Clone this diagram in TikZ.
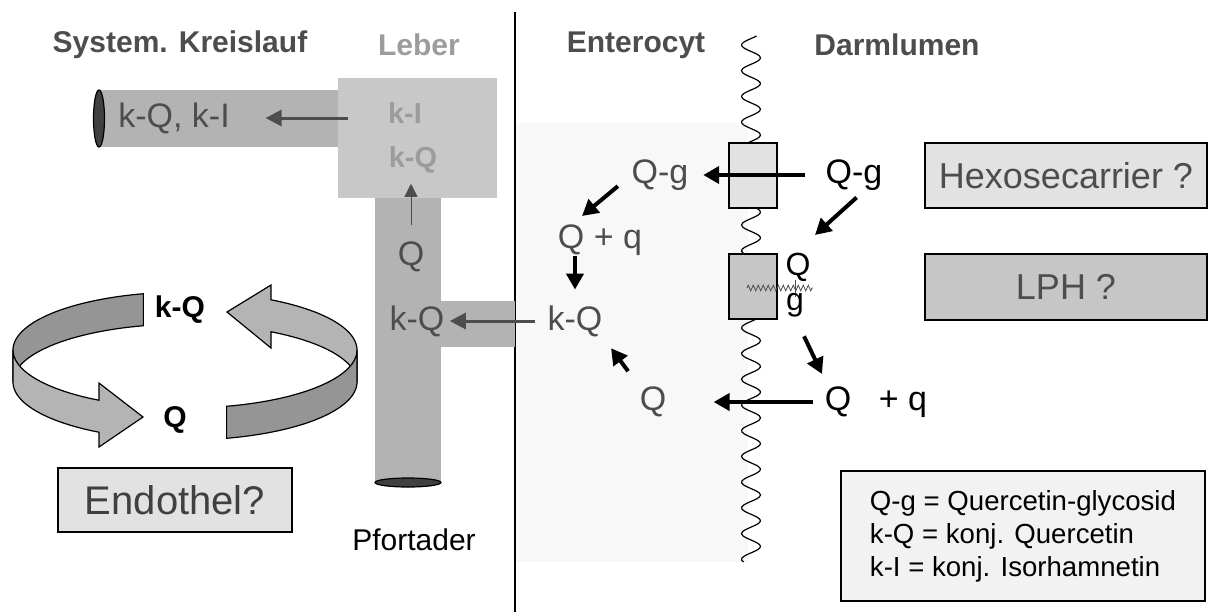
\documentclass[tikz,border=0pt]{standalone}
\usepackage{fontspec}
\setmainfont{Liberation Sans}
\usetikzlibrary{arrows.meta, decorations.pathmorphing}
\definecolor{txtgray}{HTML}{4D4D4D}
\definecolor{livgray}{HTML}{9C9C9C}
\definecolor{tube}{HTML}{B3B3B3}
\definecolor{liver}{HTML}{C8C8C8}
\definecolor{hexo}{HTML}{E2E2E2}
\definecolor{lph}{HTML}{C6C6C6}
\definecolor{cellbg}{HTML}{F8F8F8}
\definecolor{legbg}{HTML}{F2F2F2}
\definecolor{ribdark}{HTML}{959595}
\definecolor{riblight}{HTML}{B4B4B4}
\definecolor{veinend}{HTML}{404040}

\begin{document}
\begin{tikzpicture}[
    x=0.5pt, y=-0.5pt,
    every node/.style={inner sep=0pt},
    ttl/.style={font=\bfseries\fontsize{15}{18}\selectfont, text=txtgray},
    big/.style={font=\fontsize{17}{20}\selectfont},
    grey/.style={big, text=txtgray},
    lbl/.style={font=\bfseries\fontsize{14.5}{17}\selectfont, text=livgray},
    box/.style={draw, line width=0.6pt, minimum width=141pt, minimum height=32.5pt,
                font=\fontsize{18}{21}\selectfont, text=txtgray},
    carrier/.style={draw, line width=0.6pt, minimum width=24pt, minimum height=32.5pt},
    arr/.style={-{Triangle[length=8pt, width=8.5pt]}, line width=2pt},
    garr/.style={-{Triangle[length=8pt, width=8pt]}, line width=1.5pt, txtgray},
    rib/.style={draw=black, line width=0.6pt}
]
    \useasboundingbox (0,0) rectangle (1211,612);

    % enterocyte and membrane
    \fill[cellbg] (516,123) rectangle (748,562);
    \draw[line width=0.6pt] plot[domain=36:562, samples=260, smooth] ({751+9.5*sin(14*\x)}, \x);
    \draw[line width=0.8pt] (515,12) -- (515,612);

    % vessels and liver
    \fill[tube] (99,90) rectangle (340,147);
    \fill[tube] (375,195) rectangle (441,484);
    \fill[tube] (441,301) rectangle (515,347);
    \node[fill=liver, minimum width=79.5pt, minimum height=60pt] (lbox) at (417.5,138) {};
    \filldraw[fill=veinend, line width=0.6pt] (99,118.5) ellipse [x radius=5.5, y radius=28.5];
    \filldraw[fill=veinend, line width=0.6pt] (408,482.5) ellipse [x radius=33, y radius=4.5];

    % titles
    \node[ttl] (tsys) at (180,45) {System. Kreislauf};
    \node[ttl, text=livgray] (tleb) at (419,45) {Leber};
    \node[ttl] (tent) at (636,45) {Enterocyt};
    \node[ttl] (tdarm) at (897,45) {Darmlumen};

    \node[grey] (kqki) at (174,118) {k-Q, k-I};
    \node[lbl] (lki) at (405,113) {k-I};
    \node[lbl] (lkq) at (413,160) {k-Q};
    \node[grey] (pq) at (411,257) {Q};
    \node[grey] (pkq) at (417,321) {k-Q};
    \node[font=\fontsize{15}{18}\selectfont] (pfort) at (414,540) {Pfortader};

    \draw[garr, shorten <=-5pt, shorten >=17.75pt] (lbox.west |- kqki) -- (kqki);
    \draw[-{Triangle[length=6.5pt, width=6.5pt]}, line width=0.5pt, txtgray,
          shorten <=8.5pt, shorten >=5pt] (pq.north) -- (pq |- lkq.south);

    % cycle in the endothelium
    \draw[rib, fill=ribdark] plot[domain=104:180, samples=40] ({185+172*cos(\x)}, {350-58*sin(\x)})
        -- plot[domain=180:104, samples=40] ({185+172*cos(\x)}, {382-58*sin(\x)}) -- cycle;
    \draw[rib, fill=riblight] plot[domain=180:240, samples=30] ({185+172*cos(\x)}, {350-58*sin(\x)})
        -- (99,383) -- (143,417) -- (99,447)
        -- plot[domain=240:180, samples=30] ({185+172*cos(\x)}, {382-58*sin(\x)}) -- cycle;
    \draw[rib, fill=riblight] plot[domain=0:60, samples=30] ({185+172*cos(\x)}, {350-58*sin(\x)})
        -- (271,285) -- (227,312) -- (271,348)
        -- plot[domain=60:0, samples=30] ({185+172*cos(\x)}, {382-58*sin(\x)}) -- cycle;
    \draw[rib, fill=ribdark] plot[domain=-76:0, samples=40] ({185+172*cos(\x)}, {350-58*sin(\x)})
        -- plot[domain=0:-76, samples=40] ({185+172*cos(\x)}, {382-58*sin(\x)}) -- cycle;
    \node[font=\bfseries\fontsize{15}{18}\selectfont] (ckq) at (180,310) {k-Q};
    \node[font=\bfseries\fontsize{15}{18}\selectfont] (cq) at (175,420) {Q};
    \node[draw, line width=0.6pt, fill=hexo, minimum width=117pt, minimum height=32pt,
          font=\fontsize{20}{24}\selectfont, text=veinend] (endo) at (175,500) {Endothel?};

    % carriers in the membrane
    \node[carrier, fill=hexo] (cb1) at (753,175.5) {};
    \node[carrier, fill=lph] (cb2) at (753,286.5) {};
    \draw[decorate, decoration={zigzag, segment length=2.5pt, amplitude=1.4pt},
          line width=0.4pt, txtgray] (747,288) -- (813,288);
    \draw[line width=0.4pt, txtgray] (795,280) -- (795,297);

    \node[grey] (eqg) at (660,175) {Q-g};
    \node[grey] (eqq) at (600,240) {Q + q};
    \node[grey] (ekq) at (575,321) {k-Q};
    \node[grey] (eq) at (653,402) {Q};
    \node[big] (rqg) at (854,175) {Q-g};
    \node[big] (rqq) at (876,402) {Q\hspace{9pt} + q};
    \node[font=\fontsize{16}{18}\selectfont] (lq) at (798,267) {Q};
    \node[font=\fontsize{16}{18}\selectfont] (lg) at (795,305) {g};

    \node[box, fill=hexo] (hexo) at (1066,175.5) {Hexosecarrier ?};
    \node[box, fill=lph, minimum height=33pt] (lph) at (1066,287) {LPH ?};
    \node[draw, line width=0.6pt, fill=legbg, minimum width=182pt, minimum height=65pt,
          align=left, font=\fontsize{13.8}{16.5}\selectfont] (leg) at (1023,536)
          {Q-g = Quercetin-glycosid\\k-Q = konj. Quercetin\\k-I = konj. Isorhamnetin};

    \coordinate (lphin) at (815,235);
    \coordinate (qqin) at (822,374);
    \coordinate (qqtop) at (582,216);

    \draw[arr, shorten <=10.25pt, shorten >=7.25pt] (rqg) -- (eqg);
    \draw[arr, shorten <=5pt] ([xshift=5pt]rqg.south) -- (lphin);
    \draw[arr, shorten <=10.5pt] (lg.south) -- (qqin);
    \draw[arr, shorten <=6pt, shorten >=23.5pt] (rqq) -- (eq);
    \draw[arr, shorten <=9.5pt, shorten >=7pt] (eq.north west) -- (ekq.south east);
    \draw[arr, shorten <=8.7pt] (eqg.west) -- (qqtop);
    \draw[arr, shorten >=7.75pt] (eqq.south -| ekq) -- (ekq);
    \draw[garr, shorten <=6pt, shorten >=2.5pt] (ekq) -- (pkq);
\end{tikzpicture}
\end{document}
